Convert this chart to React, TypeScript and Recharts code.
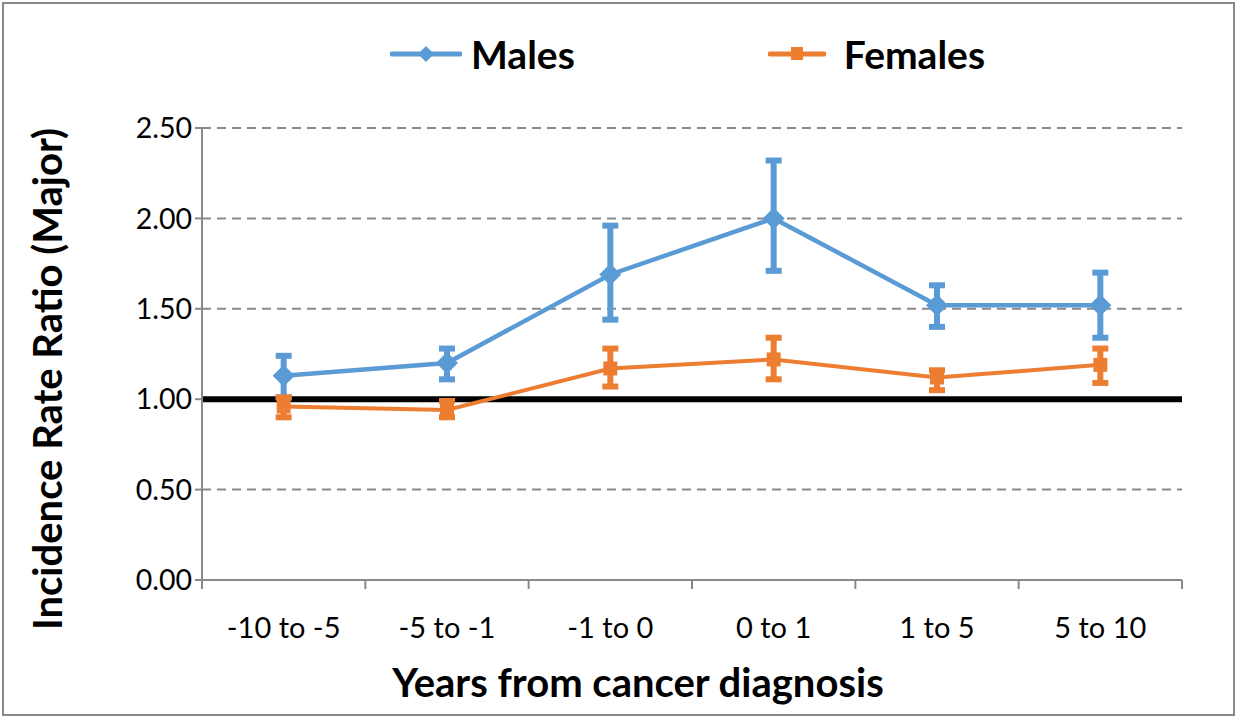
import React from "react";
import {
  LineChart,
  Line,
  XAxis,
  YAxis,
  CartesianGrid,
  ReferenceLine,
  ErrorBar,
  Legend,
} from "recharts";

const categories = ["-10 to -5", "-5 to -1", "-1 to 0", "0 to 1", "1 to 5", "5 to 10"];
const maleIRR = [1.13, 1.2, 1.69, 2.0, 1.52, 1.52];
const maleLow = [1.01, 1.11, 1.44, 1.71, 1.4, 1.34];
const maleHigh = [1.24, 1.28, 1.96, 2.32, 1.63, 1.7];
const femaleIRR = [0.96, 0.94, 1.17, 1.22, 1.12, 1.19];
const femaleLow = [0.9, 0.9, 1.07, 1.11, 1.05, 1.09];
const femaleHigh = [1.01, 0.99, 1.28, 1.34, 1.16, 1.28];
const yTicks = [0, 0.5, 1, 1.5, 2, 2.5];

const BLUE = "#5B9BD5";
const ORANGE = "#ED7D31";
const FONT = "Lato, 'Open Sans', sans-serif";

// numeric x so the points sit in the middle of each category band
const data = categories.map((name, i) => ({
  name,
  pos: i + 0.5,
  males: maleIRR[i],
  malesErr: [maleIRR[i] - maleLow[i], maleHigh[i] - maleIRR[i]],
  females: femaleIRR[i],
  femalesErr: [femaleIRR[i] - femaleLow[i], femaleHigh[i] - femaleIRR[i]],
}));

const xTicks = categories.flatMap((_, i) => [i, i + 0.5]).concat(categories.length);

const XTick = (props: any) => {
  const { x, y, payload } = props;
  const v = payload.value as number;
  if (Number.isInteger(v)) {
    return <line x1={x} x2={x} y1={y} y2={y + 9} stroke="#898989" strokeWidth={2} />;
  }
  return (
    <text x={x} y={y + 58} textAnchor="middle" fontSize={29} fontFamily={FONT} fill="#000">
      {categories[Math.floor(v)]}
    </text>
  );
};

const XTitle = (props: any) => {
  const { viewBox } = props;
  return (
    <text
      x={viewBox.x + viewBox.width / 2 - 54}
      y={viewBox.y + viewBox.height - 24}
      textAnchor="middle"
      fontSize={40}
      fontWeight={700}
      fontFamily={FONT}
      fill="#000"
    >
      Years from cancer diagnosis
    </text>
  );
};

const YTitle = (props: any) => {
  const { viewBox } = props;
  const cx = viewBox.x + 62;
  const cy = viewBox.y + viewBox.height / 2 + 25;
  return (
    <text
      x={cx}
      y={cy}
      transform={`rotate(-90, ${cx}, ${cy})`}
      textAnchor="middle"
      fontSize={40}
      fontWeight={700}
      fontFamily={FONT}
      fill="#000"
    >
      Incidence Rate Ratio (Major)
    </text>
  );
};

const Diamond = (props: any) => {
  const { cx, cy } = props;
  if (cx == null || cy == null) return null;
  const r = 11;
  return <path d={`M${cx},${cy - r}L${cx + r},${cy}L${cx},${cy + r}L${cx - r},${cy}Z`} fill={BLUE} />;
};

const Square = (props: any) => {
  const { cx, cy } = props;
  if (cx == null || cy == null) return null;
  return <rect x={cx - 7} y={cy - 7} width={14} height={14} fill={ORANGE} />;
};

const LegendContent = () => (
  <div style={{ display: "flex", alignItems: "center", fontFamily: FONT }}>
    <svg width={72} height={24} style={{ marginLeft: 390 }}>
      <line x1={2} x2={70} y1={12} y2={12} stroke={BLUE} strokeWidth={5} strokeLinecap="round" />
      <path d="M36,4L44,12L36,20L28,12Z" fill={BLUE} />
    </svg>
    <span style={{ fontSize: 39, fontWeight: 700, marginLeft: 9, color: "#000" }}>Males</span>
    <svg width={58} height={24} style={{ marginLeft: 193 }}>
      <line x1={2} x2={56} y1={12} y2={12} stroke={ORANGE} strokeWidth={5} strokeLinecap="round" />
      <rect x={23} y={5} width={12} height={13} fill={ORANGE} />
    </svg>
    <span style={{ fontSize: 39, fontWeight: 700, marginLeft: 18, color: "#000" }}>Females</span>
  </div>
);

const App = () => (
  <div style={{ position: "absolute", left: 0, top: 0, width: 1240, height: 721 }}>
    <div
      style={{
        position: "absolute",
        left: 2,
        top: 2,
        width: 1233,
        height: 714,
        border: "2px solid #898989",
        boxSizing: "border-box",
      }}
    />
    <LineChart
      width={1240}
      height={721}
      data={data}
      margin={{ top: 128, right: 58, bottom: 0, left: 0 }}
    >
      <CartesianGrid
        horizontal
        vertical={false}
        stroke="#898989"
        strokeWidth={2}
        strokeDasharray="9 6"
      />
      <XAxis
        dataKey="pos"
        type="number"
        domain={[0, categories.length]}
        ticks={xTicks}
        interval={0}
        tick={<XTick />}
        tickLine={false}
        tickSize={0}
        tickMargin={0}
        axisLine={{ stroke: "#898989", strokeWidth: 2 }}
        height={141}
        label={<XTitle />}
      />
      <YAxis
        type="number"
        domain={[0, 2.5]}
        ticks={yTicks}
        interval={0}
        tickFormatter={(v: number) => v.toFixed(2)}
        tick={{ fontSize: 28.5, fontFamily: FONT, fill: "#000" }}
        tickSize={7}
        tickMargin={3}
        tickLine={{ stroke: "#898989", strokeWidth: 2 }}
        axisLine={{ stroke: "#898989", strokeWidth: 2 }}
        width={202}
        label={<YTitle />}
      />
      <ReferenceLine y={1} stroke="#000" strokeWidth={6} />
      <Legend
        verticalAlign="middle"
        content={<LegendContent />}
        wrapperStyle={{ top: 31, left: 0, width: 1240 }}
      />
      <Line
        dataKey="males"
        name="Males"
        stroke={BLUE}
        strokeWidth={4.5}
        dot={<Diamond />}
        activeDot={false}
        isAnimationActive={false}
      >
        <ErrorBar dataKey="malesErr" width={8} stroke={BLUE} strokeWidth={6} isAnimationActive={false} />
      </Line>
      <Line
        dataKey="females"
        name="Females"
        stroke={ORANGE}
        strokeWidth={4}
        dot={<Square />}
        activeDot={false}
        isAnimationActive={false}
      >
        <ErrorBar dataKey="femalesErr" width={8} stroke={ORANGE} strokeWidth={6} isAnimationActive={false} />
      </Line>
    </LineChart>
  </div>
);

export default App;
